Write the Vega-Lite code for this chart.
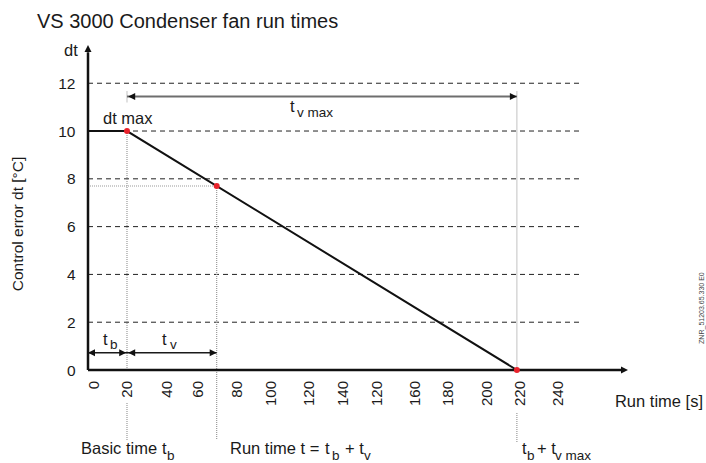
{
  "$schema": "https://vega.github.io/schema/vega-lite/v6.json",
  "width": 540,
  "height": 325,
  "autosize": {"type": "none"},
  "padding": {"left": 88, "top": 45, "right": 78, "bottom": 93},
  "background": "white",
  "config": {
    "view": {"stroke": null},
    "text": {"font": "Liberation Sans", "color": "#1a1a1a"},
    "axis": {"labelFont": "Liberation Sans"}
  },
  "datasets": {
    "gridlines": [
      {"t": 0, "t2": 252, "dt": 2, "dt2": 2},
      {"t": 0, "t2": 252, "dt": 4, "dt2": 4},
      {"t": 0, "t2": 252, "dt": 6, "dt2": 6},
      {"t": 0, "t2": 252, "dt": 8, "dt2": 8},
      {"t": 0, "t2": 252, "dt": 10, "dt2": 10},
      {"t": 0, "t2": 252, "dt": 12, "dt2": 12}
    ],
    "guides": [
      {"t": 20, "t2": 20, "dt": 11.65, "dt2": 11.2},
      {"t": 20, "t2": 20, "dt": 10, "dt2": 0},
      {"t": 20, "t2": 20, "dt": -1.38, "dt2": -2.93},
      {"t": 66, "t2": 66, "dt": 7.7, "dt2": -2.93},
      {"t": 220, "t2": 220, "dt": 11.65, "dt2": 0},
      {"t": 220, "t2": 220, "dt": -1.8, "dt2": -3.05},
      {"t": 0, "t2": 66, "dt": 7.7, "dt2": 7.7}
    ],
    "axislines": [
      {"t": 0, "t2": 0, "dt": 0, "dt2": 13.3},
      {"t": 0, "t2": 274, "dt": 0, "dt2": 0}
    ],
    "curve": [
      {"t": 0, "dt": 10},
      {"t": 20, "dt": 10},
      {"t": 220, "dt": 0}
    ],
    "spans": [
      {"t": 0, "t2": 20, "dt": 0.72, "dt2": 0.72},
      {"t": 20, "t2": 66, "dt": 0.72, "dt2": 0.72}
    ],
    "span_max": [
      {"t": 20, "t2": 220, "dt": 11.45, "dt2": 11.45}
    ],
    "heads_right": [
      {"t": 19.6, "dt": 0.72},
      {"t": 66, "dt": 0.72},
      {"t": 220, "dt": 11.45},
      {"t": 277, "dt": 0}
    ],
    "heads_left": [
      {"t": 0, "dt": 0.72},
      {"t": 20.6, "dt": 0.72},
      {"t": 20.6, "dt": 11.45}
    ],
    "heads_up": [
      {"t": 0, "dt": 13.6}
    ],
    "markers": [
      {"t": 20, "dt": 10},
      {"t": 66, "dt": 7.7},
      {"t": 220, "dt": 0}
    ],
    "xticks": [
      {"t": 3.1, "dt": -0.46, "label": "0"},
      {"t": 20, "dt": -0.46, "label": "20"},
      {"t": 40.5, "dt": -0.46, "label": "40"},
      {"t": 56.4, "dt": -0.46, "label": "60"},
      {"t": 76.4, "dt": -0.46, "label": "80"},
      {"t": 93.8, "dt": -0.46, "label": "100"},
      {"t": 113.3, "dt": -0.46, "label": "120"},
      {"t": 130.8, "dt": -0.46, "label": "140"},
      {"t": 148.2, "dt": -0.46, "label": "120"},
      {"t": 167.7, "dt": -0.46, "label": "160"},
      {"t": 184.6, "dt": -0.46, "label": "180"},
      {"t": 204.6, "dt": -0.46, "label": "200"},
      {"t": 221.5, "dt": -0.46, "label": "220"},
      {"t": 241, "dt": -0.46, "label": "240"}
    ],
    "labels": [
      {"t": -12.3, "dt": 13.14, "text": "dt"},
      {"t": 7.7, "dt": 10.29, "text": "dt max"},
      {"t": 103.6, "dt": 10.8, "text": "t"},
      {"t": 7.7, "dt": 1.03, "text": "t"},
      {"t": 37.96, "dt": 1.03, "text": "t"},
      {"t": -3.59, "dt": -3.515, "text": "Basic time"},
      {"t": 37.96, "dt": -3.515, "text": "t"},
      {"t": 72.84, "dt": -3.515, "text": "Run time t ="},
      {"t": 121.6, "dt": -3.515, "text": "t"},
      {"t": 131.8, "dt": -3.515, "text": "+ t"},
      {"t": 222.6, "dt": -3.515, "text": "t"},
      {"t": 230.3, "dt": -3.515, "text": "+ t"},
      {"t": 270.3, "dt": -1.55, "text": "Run time [s]"}
    ],
    "subscripts": [
      {"t": 107.2, "dt": 10.59, "text": "v max"},
      {"t": 11.3, "dt": 0.88, "text": "b"},
      {"t": 42.06, "dt": 0.88, "text": "v"},
      {"t": 40.52, "dt": -3.766, "text": "b"},
      {"t": 125.2, "dt": -3.766, "text": "b"},
      {"t": 141.6, "dt": -3.766, "text": "v"},
      {"t": 225.2, "dt": -3.766, "text": "b"},
      {"t": 239.5, "dt": -3.766, "text": "v max"}
    ],
    "heading": [
      {"t": -26.2, "dt": 14.31, "text": "VS 3000 Condenser fan run times"}
    ],
    "ytitle": [
      {"t": -35.9, "dt": 6.11, "text": "Control error dt [°C]"}
    ],
    "drawing_id": [
      {"t": 315, "dt": 2.59, "text": "ZNR_51203.65.330 E0"}
    ]
  },
  "encoding": {
    "x": {
      "field": "t",
      "type": "quantitative",
      "scale": {"domain": [0, 277], "nice": false, "zero": false},
      "axis": null
    },
    "y": {
      "field": "dt",
      "type": "quantitative",
      "scale": {"domain": [0, 13.6], "nice": false, "zero": false},
      "axis": {
        "values": [0, 2, 4, 6, 8, 10, 12],
        "ticks": false,
        "domain": false,
        "grid": false,
        "labelFontSize": 15.5,
        "labelColor": "#1a1a1a",
        "labelPadding": 13,
        "title": null
      }
    }
  },
  "layer": [
    {
      "data": {"name": "gridlines"},
      "mark": {"type": "rule", "color": "#222222", "strokeWidth": 1, "strokeDash": [5, 4]},
      "encoding": {"x2": {"field": "t2"}, "y2": {"field": "dt2"}}
    },
    {
      "data": {"name": "guides"},
      "mark": {"type": "rule", "color": "#9a9a9a", "strokeWidth": 1.2, "strokeDash": [1, 1]},
      "encoding": {"x2": {"field": "t2"}, "y2": {"field": "dt2"}}
    },
    {
      "data": {"name": "spans"},
      "mark": {"type": "rule", "color": "#1a1a1a", "strokeWidth": 1.5},
      "encoding": {"x2": {"field": "t2"}, "y2": {"field": "dt2"}}
    },
    {
      "data": {"name": "span_max"},
      "mark": {"type": "rule", "color": "#6e6e6e", "strokeWidth": 2},
      "encoding": {"x2": {"field": "t2"}, "y2": {"field": "dt2"}}
    },
    {
      "data": {"name": "curve"},
      "mark": {"type": "line", "color": "#111111", "strokeWidth": 2}
    },
    {
      "data": {"name": "axislines"},
      "mark": {"type": "rule", "color": "#111111", "strokeWidth": 2.5},
      "encoding": {"x2": {"field": "t2"}, "y2": {"field": "dt2"}}
    },
    {
      "data": {"name": "heads_right"},
      "mark": {"type": "point", "shape": "M0,0L-2,-1L-2,1Z", "size": 49, "filled": true, "opacity": 1, "color": "#111111", "strokeWidth": 0}
    },
    {
      "data": {"name": "heads_left"},
      "mark": {"type": "point", "shape": "M0,0L2,-1L2,1Z", "size": 49, "filled": true, "opacity": 1, "color": "#111111", "strokeWidth": 0}
    },
    {
      "data": {"name": "heads_up"},
      "mark": {"type": "point", "shape": "M0,0L-1,2L1,2Z", "size": 49, "filled": true, "opacity": 1, "color": "#111111", "strokeWidth": 0}
    },
    {
      "data": {"name": "markers"},
      "mark": {"type": "point", "shape": "circle", "size": 36, "filled": true, "opacity": 1, "color": "#e8222b", "strokeWidth": 0}
    },
    {
      "data": {"name": "xticks"},
      "mark": {"type": "text", "angle": 270, "align": "right", "baseline": "middle", "fontSize": 15},
      "encoding": {"text": {"field": "label"}}
    },
    {
      "data": {"name": "labels"},
      "mark": {"type": "text", "align": "left", "baseline": "alphabetic", "fontSize": 16.5},
      "encoding": {"text": {"field": "text"}}
    },
    {
      "data": {"name": "subscripts"},
      "mark": {"type": "text", "align": "left", "baseline": "alphabetic", "fontSize": 13.5},
      "encoding": {"text": {"field": "text"}}
    },
    {
      "data": {"name": "heading"},
      "mark": {"type": "text", "align": "left", "baseline": "alphabetic", "fontSize": 20},
      "encoding": {"text": {"field": "text"}}
    },
    {
      "data": {"name": "ytitle"},
      "mark": {"type": "text", "angle": 270, "align": "center", "baseline": "middle", "fontSize": 15.5},
      "encoding": {"text": {"field": "text"}}
    },
    {
      "data": {"name": "drawing_id"},
      "mark": {"type": "text", "angle": 270, "align": "center", "baseline": "middle", "fontSize": 7, "color": "#444444"},
      "encoding": {"text": {"field": "text"}}
    }
  ]
}
